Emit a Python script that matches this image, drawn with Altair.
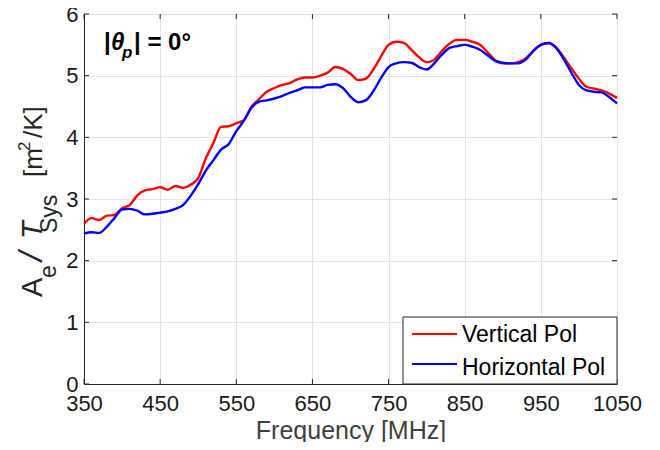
import altair as alt
import pandas as pd

freq = list(range(350, 1051, 10))

vertical_pol = [2.60, 2.69, 2.66, 2.73, 2.74, 2.85, 2.90, 3.06, 3.14, 3.16,
                3.19, 3.15, 3.21, 3.18, 3.23, 3.34, 3.66, 3.91, 4.17, 4.18,
                4.23, 4.28, 4.50, 4.62, 4.74, 4.80, 4.85, 4.88, 4.94, 4.97,
                4.97, 5.00, 5.05, 5.14, 5.11, 5.03, 4.93, 4.95, 5.10, 5.31,
                5.50, 5.55, 5.53, 5.42, 5.30, 5.22, 5.26, 5.40, 5.52, 5.58,
                5.58, 5.55, 5.50, 5.38, 5.25, 5.20, 5.20, 5.22, 5.28, 5.40,
                5.50, 5.53, 5.46, 5.30, 5.12, 4.95, 4.82, 4.79, 4.76, 4.71,
                4.64]

horizontal_pol = [2.44, 2.46, 2.45, 2.55, 2.69, 2.83, 2.84, 2.81, 2.75, 2.76,
                  2.78, 2.80, 2.84, 2.90, 3.05, 3.24, 3.46, 3.63, 3.80, 3.89,
                  4.10, 4.27, 4.48, 4.58, 4.60, 4.63, 4.67, 4.72, 4.76, 4.81,
                  4.81, 4.81, 4.85, 4.86, 4.80, 4.66, 4.57, 4.60, 4.75, 4.96,
                  5.14, 5.20, 5.22, 5.21, 5.14, 5.10, 5.20, 5.34, 5.45, 5.48,
                  5.50, 5.47, 5.42, 5.33, 5.24, 5.21, 5.20, 5.20, 5.26, 5.40,
                  5.50, 5.53, 5.45, 5.27, 5.05, 4.85, 4.76, 4.74, 4.73, 4.65,
                  4.55]

series_names = ["Vertical Pol", "Horizontal Pol"]
series_colors = ["#ff0000", "#0000ff"]
x_ticks = [350, 450, 550, 650, 750, 850, 950, 1050]
y_ticks = [0, 1, 2, 3, 4, 5, 6]

FONT = "Liberation Sans"
W, H = 533, 370

df = pd.DataFrame({
    "freq": freq * 2,
    "val": vertical_pol + horizontal_pol,
    "series": [series_names[0]] * len(freq) + [series_names[1]] * len(freq),
})

xscale = alt.Scale(domain=[350, 1050], nice=False, zero=False)
yscale = alt.Scale(domain=[0, 6], nice=False)

lines = alt.Chart(df).mark_line(strokeWidth=2.4, interpolate="monotone").encode(
    x=alt.X("freq:Q", scale=xscale,
            axis=alt.Axis(values=x_ticks, format="d", title="Frequency [MHz]",
                          titleFontSize=25, titleFontWeight="normal", titleColor="#404040",
                          titleFont=FONT, titleY=54, titleBaseline="alphabetic",
                          labelPadding=9, labelFlush=False, labelOverlap=False,
                          ticks=False)),
    y=alt.Y("val:Q", scale=yscale,
            axis=alt.Axis(values=y_ticks, format="d", title=None, labelPadding=6,
                          ticks=False, labelOverlap=False)),
    color=alt.Color("series:N", scale=alt.Scale(domain=series_names, range=series_colors),
                    legend=None),
)

xt = pd.DataFrame({"x": x_ticks})
yt = pd.DataFrame({"y": y_ticks})
tick_bottom = alt.Chart(xt).mark_rule(color="#262626").encode(
    x=alt.X("x:Q", scale=xscale), y=alt.value(H), y2=alt.value(H - 5))
tick_top = alt.Chart(xt).mark_rule(color="#262626").encode(
    x=alt.X("x:Q", scale=xscale), y=alt.value(0), y2=alt.value(5))
tick_left = alt.Chart(yt).mark_rule(color="#262626").encode(
    y=alt.Y("y:Q", scale=yscale), x=alt.value(0), x2=alt.value(5))
tick_right = alt.Chart(yt).mark_rule(color="#262626").encode(
    y=alt.Y("y:Q", scale=yscale), x=alt.value(W), x2=alt.value(W - 5))


def label(txt, x, y, size, angle=0, bold=False, italic=False, color="#262626"):
    kw = dict(align="left", baseline="alphabetic", font=FONT, fontSize=size, color=color,
              fontWeight="bold" if bold else "normal",
              fontStyle="italic" if italic else "normal")
    if angle:
        kw["angle"] = angle
    return alt.Chart(pd.DataFrame({"t": [txt]})).mark_text(**kw).encode(
        text="t:N", x=alt.value(x), y=alt.value(y))


ycol = "#262626"
ytitle = [
    label("A", -42, 283, 29, angle=270, color=ycol),
    label("e", -28, 264, 23, angle=270, color=ycol),
    label("/", -42, 247, 34, angle=270, italic=True, color=ycol),
    label("T", -42, 225, 29, angle=270, italic=True, color=ycol),
    label("Sys", -27, 219, 23, angle=270, color=ycol),
    label("[m", -42, 163, 26, angle=270, color=ycol),
    label("2", -54, 137, 17, angle=270, color=ycol),
    label("/K]", -42, 124, 26, angle=270, color=ycol),
]

annot = [
    label("|", 20, 36, 24, bold=True, color="#000000"),
    label("θ", 27, 36, 24, bold=True, italic=True, color="#000000"),
    label("p", 38, 44, 17, bold=True, italic=True, color="#000000"),
    label("| = 0°", 50, 36, 24, bold=True, color="#000000"),
]

# legend box (drawn by hand so the rows match the reference spacing)
leg_df = pd.DataFrame({"series": series_names, "color": series_colors})
legend_box = alt.Chart(pd.DataFrame({"b": [0]})).mark_rect(
    fill="white", stroke="#262626", strokeWidth=1).encode(
    x=alt.value(319), x2=alt.value(533), y=alt.value(303), y2=alt.value(370))
legend_lines = [
    alt.Chart(leg_df.iloc[[i]]).mark_rule(strokeWidth=2, color=series_colors[i]).encode(
        x=alt.value(328), x2=alt.value(373), y=alt.value(320 + 30 * i))
    for i in range(2)
]
legend_text = [
    alt.Chart(leg_df.iloc[[i]]).mark_text(align="left", baseline="alphabetic", font=FONT,
                                          fontSize=23, color="#000000").encode(
        text="series:N", x=alt.value(378), y=alt.value(328 + 33 * i))
    for i in range(2)
]

chart = alt.layer(lines, tick_bottom, tick_top, tick_left, tick_right, *ytitle, *annot,
                  legend_box, *legend_lines, *legend_text).properties(
    width=W, height=H,
    autosize=alt.AutoSizeParams(type="none"),
    padding={"left": 76, "top": 6, "right": 35, "bottom": 58},
).configure_axis(
    labelFont=FONT, labelFontSize=22, labelColor="#1a1a1a",
    gridColor="#e3e3e3", gridWidth=1, domainColor="#262626", domainWidth=1,
).configure_view(stroke="#262626", strokeWidth=1)

chart.save("out.html", embed_options={"renderer": "svg", "actions": False})
